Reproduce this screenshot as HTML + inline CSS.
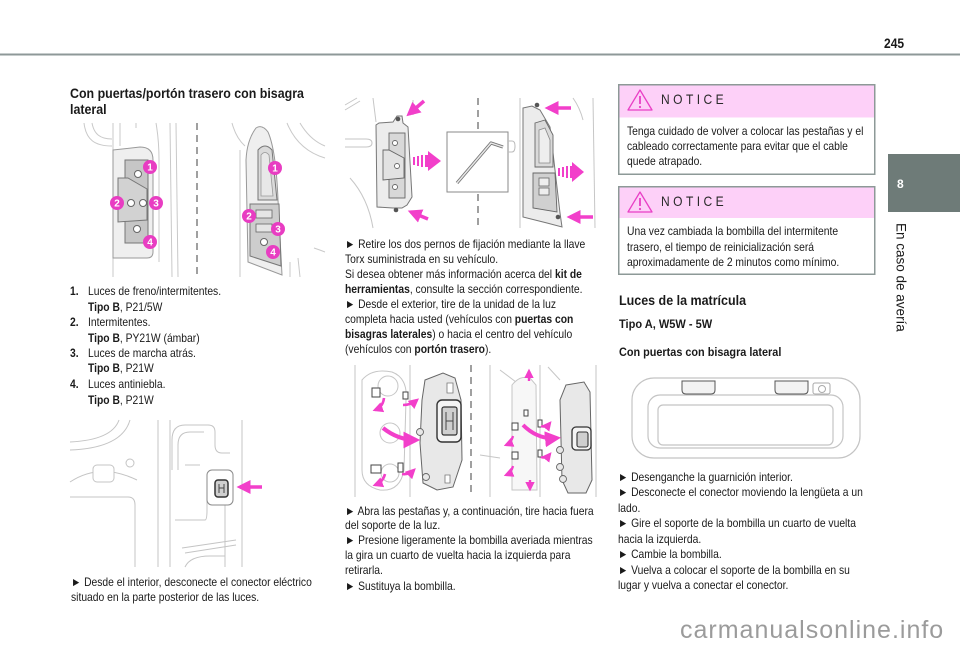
<!DOCTYPE html>
<html><head><meta charset="utf-8">
<style>
body{margin:0;background:#fff}
#p{position:relative;width:960px;height:649px;overflow:hidden;background:#fff;font-family:"Liberation Sans",Arial,sans-serif;color:#1a1a1a}
#p svg{position:absolute;left:0;top:0}
.t{position:absolute;white-space:nowrap;font-size:12px;line-height:12px;transform:scaleX(.86);transform-origin:0 0}
.h{position:absolute;white-space:nowrap;font-weight:bold;font-size:13.5px;line-height:14px;transform:scaleX(.92);transform-origin:0 0}
.s{position:absolute;white-space:nowrap;font-weight:bold;font-size:12px;line-height:12px;transform:scaleX(.91);transform-origin:0 0}
.n{position:absolute;white-space:nowrap;font-size:14px;line-height:14px;letter-spacing:4px;color:#2a2a2a;transform:scaleX(.86);transform-origin:0 0}
b{font-weight:bold}
</style></head>
<body><div id="p">
<svg width="960" height="649" viewBox="0 0 960 649">
<defs>
<marker id="a" viewBox="0 0 4 4" markerWidth="4" markerHeight="4" refX="3" refY="2" orient="auto" markerUnits="strokeWidth"><path d="M0,0L4,2L0,4z" fill="#f23fca"/></marker>
</defs>
<!-- header line -->
<rect x="0" y="53.5" width="960" height="2" fill="#8e9898"/>
<!-- sidebar -->
<rect x="888" y="154" width="72" height="58" fill="#6e7b78"/>

<!-- notice boxes -->
<rect x="618.75" y="84.75" width="256" height="89.5" fill="#fff" stroke="#8d9997" stroke-width="1.5"/>
<rect x="619.5" y="85.5" width="254.5" height="32" fill="#fdd0f8"/>
<path d="M640,90 L652,110 L628,110 Z" fill="none" stroke="#e93fc5" stroke-width="1.3" stroke-linejoin="round"/>
<line x1="640" y1="96" x2="640" y2="104" stroke="#e93fc5" stroke-width="1.8"/>
<circle cx="640" cy="107" r="1.1" fill="#e93fc5"/>

<rect x="618.75" y="186.75" width="256" height="87.5" fill="#fff" stroke="#8d9997" stroke-width="1.5"/>
<rect x="619.5" y="187.5" width="254.5" height="30.5" fill="#fdd0f8"/>
<path d="M640,192 L652,212 L628,212 Z" fill="none" stroke="#e93fc5" stroke-width="1.3" stroke-linejoin="round"/>
<line x1="640" y1="198" x2="640" y2="206" stroke="#e93fc5" stroke-width="1.8"/>
<circle cx="640" cy="209" r="1.1" fill="#e93fc5"/>

<!-- ============ Illustration 1 ============ -->
<g fill="none" stroke="#c9c9c9" stroke-width="1">
<path d="M84,123 C86,140 95,146 112,146"/>
<path d="M92,123 C94,134 100,139 112,139"/>
<path d="M113,123 L113,277"/>
<path d="M120,123 L120,146"/>
<path d="M156,123 Q159,140 159,160 L159,262"/>
<path d="M170,123 L172,277"/>
<path d="M176,123 L178,277"/>
<path d="M136,123 L136,128"/>
<path d="M232,123 Q236,138 245,146"/>
<path d="M240,150 L240,277"/>
<path d="M287,123 Q298,150 325,158"/>
<path d="M300,123 Q310,140 325,146"/>
<path d="M314,248 Q320,250 325,252"/>
<path d="M290,262 L290,277"/>
<path d="M298,258 L300,277"/>
</g>
<path d="M113,150 L140,147 Q153,147 153,160 L153,252 Q153,258 147,258 L113,258 Z" fill="#efefef" stroke="#9a9a9a" stroke-width="1"/>
<path d="M125,160 L148,160 L148,243 L125,243 Z" fill="#c6c6c6" stroke="#777" stroke-width="1"/>
<path d="M118,178 L128,178 L147,189 L147,220 L118,222 Z" fill="#d2d2d2" stroke="#777" stroke-width="1"/>
<g fill="#fff" stroke="#666" stroke-width="1">
<circle cx="138" cy="174" r="3.5"/><circle cx="131" cy="203" r="3.5"/><circle cx="143" cy="203" r="3.5"/><circle cx="137" cy="229" r="3.5"/>
</g>
<path d="M197,123 L197,277" stroke="#808080" stroke-width="1.5" stroke-dasharray="7 5"/>
<path d="M256,128 Q262,124 268,132 Q276,150 278,200 L282,275 L248,262 L246,160 Q247,140 256,128 Z" fill="#efefef" stroke="#999" stroke-width="1"/>
<path d="M258,150 Q265,142 272,150 L277,200 L258,200 Z" fill="#dadada" stroke="#777" stroke-width="1"/>
<path d="M261,155 Q265,150 269,155 L273,196 L261,196 Z" fill="#e8e8e8" stroke="#999" stroke-width="0.8"/>
<path d="M250,204 L279,204 L281,266 L250,256 Z" fill="#cdcdcd" stroke="#777" stroke-width="1"/>
<rect x="256" y="210" width="16" height="8" fill="#e5e5e5" stroke="#666" stroke-width="0.8"/>
<rect x="256" y="224" width="16" height="8" fill="#e5e5e5" stroke="#666" stroke-width="0.8"/>
<circle cx="264" cy="242" r="3.5" fill="#fff" stroke="#666" stroke-width="1"/>
<g fill="#e83dc2">
<circle cx="150" cy="167" r="7"/><circle cx="117" cy="203" r="7"/><circle cx="156" cy="203" r="7"/><circle cx="150" cy="242" r="7"/>
<circle cx="275" cy="168" r="7"/><circle cx="249" cy="216" r="7"/><circle cx="278" cy="229" r="7"/><circle cx="273" cy="252" r="7"/>
</g>
<g fill="#fff" font-family="Liberation Sans, Arial, sans-serif" font-weight="bold" font-size="10" text-anchor="middle">
<text x="150" y="170.5">1</text><text x="117" y="206.5">2</text><text x="156" y="206.5">3</text><text x="150" y="245.5">4</text>
<text x="275" y="171.5">1</text><text x="249" y="219.5">2</text><text x="278" y="232.5">3</text><text x="273" y="255.5">4</text>
</g>

<!-- ============ Illustration 2 ============ -->
<g fill="none" stroke="#c4c4c4" stroke-width="1">
<path d="M70,442 Q112,440 119,420"/>
<path d="M70,450 Q122,448 130,420"/>
<path d="M70,482 Q100,462 137,480"/>
<rect x="93" y="465" width="21" height="17" rx="4" fill="#fff"/>
<circle cx="130" cy="463" r="4"/>
<path d="M70,497 L128,497 Q135,497 135,505 L135,567"/>
<path d="M158,420 L158,567"/>
<path d="M170,420 L170,567"/>
<path d="M242,420 L242,567"/>
<path d="M172,470 L172,440 Q172,425 185,425 L208,425 Q215,425 215,432 L215,445 Q215,453 222,453 L230,453"/>
<path d="M178,470 L178,445 Q178,432 190,432 L204,432"/>
<path d="M185,465 L200,465"/>
<path d="M175,520 L205,520 Q207,520 207,510 L207,500"/>
<path d="M182,548 L236,540"/>
<path d="M185,553 L236,545"/>
<path d="M185,567 Q190,556 210,556 L225,556"/>
<path d="M225,505 L225,567"/>
</g>
<rect x="207" y="470" width="26" height="35" rx="5" fill="#fff" stroke="#8a8a8a" stroke-width="1"/>
<rect x="215" y="480" width="13" height="17" rx="3" fill="#cfcfcf" stroke="#333" stroke-width="1.5"/>
<path d="M219,484 L219,493 M219,488 L224,488 M224,484 L224,493" stroke="#444" stroke-width="1" fill="none"/>
<line x1="262" y1="487" x2="240" y2="487" stroke="#f23fca" stroke-width="3.5" marker-end="url(#a)"/>

<!-- ============ Illustration 3 ============ -->
<g fill="none" stroke="#c6c6c6" stroke-width="1">
<path d="M345,105 L357,98"/><path d="M345,110 L360,101"/>
<path d="M345,139 L366,139 Q372,139 372,143 Q372,147 366,147 L345,147"/>
<path d="M350,178 Q368,198 373,228"/>
<path d="M373,98 L376,122"/>
<path d="M520,98 L520,228"/>
<path d="M573,98 Q580,108 583,120"/>
<path d="M593,98 L595,228"/>
<path d="M413,100 L413,115"/>
</g>
<path d="M379,123 L393,122 L397,116 L402,116 L403,123 L408,127 L412,197 L407,205 L402,208 L393,208 L377,207 L376,125 Z" fill="#ececec" stroke="#777" stroke-width="1"/>
<rect x="389" y="133" width="16" height="65" fill="#d8d8d8" stroke="#666" stroke-width="0.9"/>
<path d="M383,150 L389,150 L404,158 L404,178 L383,180 Z" fill="#e2e2e2" stroke="#666" stroke-width="0.9"/>
<g fill="#fff" stroke="#666" stroke-width="0.9">
<circle cx="395" cy="143" r="2.5"/><circle cx="397" cy="166" r="2.5"/><circle cx="395" cy="187" r="2.5"/>
</g>
<circle cx="398" cy="119" r="2.3" fill="#555"/>
<circle cx="396" cy="210" r="2.3" fill="#555"/>
<path d="M478,98 L478,228" stroke="#808080" stroke-width="1.5" stroke-dasharray="7 5"/>
<rect x="447" y="132" width="61" height="60" fill="#fff" stroke="#8a8a8a" stroke-width="1"/>
<path d="M508,141 L512,141 Q515,141 515,146 Q515,152 512,152 L508,152" fill="none" stroke="#bbb" stroke-width="1"/>
<path d="M457,183 L491,143 L503,147" fill="none" stroke="#777" stroke-width="3.2" stroke-linejoin="round"/>
<path d="M457,183 L491,143 L503,147" fill="none" stroke="#e8e8e8" stroke-width="1.4" stroke-linejoin="round"/>
<path d="M523,108 L532,106 L540,110 L550,127 L560,213 L562,227 L547,223 L523,217 Z" fill="#ececec" stroke="#777" stroke-width="1"/>
<path d="M535,123 L545,120 L553,135 L553,167 L535,167 Z" fill="#dadada" stroke="#666" stroke-width="0.9"/>
<path d="M539,130 L545,128 L550,140 L550,163 L539,163 Z" fill="#eee" stroke="#888" stroke-width="0.8"/>
<path d="M533,173 L555,173 L557,212 L533,208 Z" fill="#d0d0d0" stroke="#666" stroke-width="0.9"/>
<rect x="539" y="178" width="10" height="8" fill="#eee" stroke="#666" stroke-width="0.8"/>
<rect x="539" y="188" width="10" height="7" fill="#eee" stroke="#666" stroke-width="0.8"/>
<circle cx="537" cy="105" r="2.3" fill="#555"/>
<circle cx="558" cy="217" r="2.3" fill="#555"/>
<g stroke="#f23fca" fill="none" marker-end="url(#a)">
<line x1="424" y1="101" x2="409" y2="114" stroke-width="3.5"/>
<line x1="428" y1="219" x2="411" y2="212" stroke-width="3.5"/>
<line x1="571" y1="108" x2="548" y2="108" stroke-width="3.5"/>
<line x1="593" y1="217" x2="570" y2="217" stroke-width="3.5"/>
</g>
<g fill="#f23fca">
<rect x="413" y="157" width="2" height="8"/><rect x="417" y="156" width="2" height="10"/><rect x="421" y="155" width="2" height="12"/><rect x="425" y="155" width="3" height="12"/>
<path d="M428,151 L441,161 L428,171 Z"/>
<rect x="558" y="168" width="2" height="8"/><rect x="562" y="167" width="2" height="10"/><rect x="566" y="166" width="2" height="12"/><rect x="570" y="166" width="2" height="12"/>
<path d="M572,162 L584,172 L572,182 Z"/>
</g>

<!-- ============ Illustration 4 ============ -->
<g fill="none" stroke="#c6c6c6" stroke-width="1">
<path d="M355,365 L355,497"/>
<path d="M410,365 L410,497"/>
<path d="M362,380 Q372,368 392,372 Q408,378 406,400 L404,470 Q400,492 380,490 Q362,486 362,470 Z"/>
<circle cx="388" cy="386" r="10"/>
<circle cx="390" cy="433" r="10"/>
<circle cx="390" cy="473" r="9"/>
<path d="M490,365 L490,497"/>
<path d="M500,370 L516,382"/>
<path d="M540,365 L540,497"/>
<path d="M548,367 L560,380"/>
<path d="M596,365 L596,497"/>
<path d="M512,385 Q520,375 530,378 L536,385 L537,490 L512,490 Z" fill="#f7f7f7"/>
<path d="M480,455 L500,458"/>
</g>
<path d="M425,380 L443,373 L455,378 L461,400 L462,460 L453,487 L437,490 L423,483 L420,443 L422,400 Z" fill="#e8e8e8" stroke="#666" stroke-width="1"/>
<circle cx="420" cy="432" r="3.5" fill="#e8e8e8" stroke="#666" stroke-width="0.9"/>
<circle cx="426" cy="477" r="3.5" fill="#e8e8e8" stroke="#666" stroke-width="0.9"/>
<path d="M447,383 L453,383 L453,393 L447,393 Z" fill="#fff" stroke="#777" stroke-width="0.8"/>
<path d="M445,475 L450,475 L450,483 L445,483 Z" fill="#fff" stroke="#777" stroke-width="0.8"/>
<rect x="437" y="400" width="24" height="42" rx="5" fill="#f4f4f4" stroke="#333" stroke-width="1.4"/>
<rect x="442" y="407" width="15" height="28" rx="2" fill="#cfcfcf" stroke="#333" stroke-width="1.2"/>
<path d="M446,412 L446,430 M446,421 L453,421 M453,412 L453,430" stroke="#444" stroke-width="1" fill="none"/>
<g fill="#fff" stroke="#444" stroke-width="1">
<rect x="372" y="388" width="8" height="9"/><rect x="403" y="392" width="5" height="7"/>
<rect x="371" y="465" width="10" height="8"/><rect x="398" y="463" width="5" height="9"/>
<rect x="512" y="423" width="6" height="7"/><rect x="512" y="452" width="6" height="7"/>
<rect x="524" y="410" width="4" height="6"/><rect x="538" y="420" width="4" height="7"/><rect x="538" y="450" width="4" height="7"/>
</g>
<path d="M566,385 L584,382 L590,392 L592,480 L586,493 L568,493 L562,480 L560,400 Z" fill="#e8e8e8" stroke="#666" stroke-width="1"/>
<circle cx="560" cy="450" r="3.5" fill="#e8e8e8" stroke="#666" stroke-width="0.9"/>
<circle cx="560" cy="467" r="3.5" fill="#e8e8e8" stroke="#666" stroke-width="0.9"/>
<circle cx="563" cy="479" r="3.5" fill="#e8e8e8" stroke="#666" stroke-width="0.9"/>
<rect x="572" y="427" width="19" height="23" rx="4" fill="#f4f4f4" stroke="#333" stroke-width="1.3"/>
<rect x="577" y="432" width="11" height="15" rx="2" fill="#cfcfcf" stroke="#333" stroke-width="1.1"/>
<path d="M471,365 L471,497" stroke="#808080" stroke-width="1.5" stroke-dasharray="7 5"/>
<g stroke="#f23fca" fill="none" marker-end="url(#a)">
<path d="M384,398 Q383,407 375,410" stroke-width="2.6"/>
<path d="M403,405 Q411,405 417,400" stroke-width="2.6"/>
<path d="M383,428 Q398,440 416,440" stroke-width="4.2"/>
<path d="M402,474 Q409,475 414,470" stroke-width="2.6"/>
<path d="M385,474 Q383,482 375,485" stroke-width="2.6"/>
<path d="M529,381 L529,371" stroke-width="2.4"/>
<path d="M530,480 L530,489" stroke-width="2.4"/>
<path d="M523,425 Q538,440 557,438" stroke-width="4"/>
<path d="M541,426 Q546,428 550,423" stroke-width="2.4"/>
<path d="M513,436 Q511,443 506,445" stroke-width="2.4"/>
<path d="M541,457 Q546,459 550,454" stroke-width="2.4"/>
<path d="M513,466 Q511,473 506,475" stroke-width="2.4"/>
</g>

<!-- ============ Illustration 5 ============ -->
<g fill="none" stroke="#c4c4c4" stroke-width="1.2">
<rect x="632" y="378" width="228" height="80" rx="22"/>
<rect x="648" y="395" width="195" height="53" rx="12"/>
<rect x="658" y="405" width="175" height="40" rx="5"/>
</g>
<path d="M682,381 L715,381 L715,390 Q715,394 711,394 L686,394 Q682,394 682,390 Z" fill="#f2f2f2" stroke="#555" stroke-width="1"/>
<path d="M775,381 L808,381 L808,390 Q808,394 804,394 L779,394 Q775,394 775,390 Z" fill="#f2f2f2" stroke="#555" stroke-width="1"/>
<rect x="813" y="383" width="17" height="11" rx="2" fill="#fff" stroke="#aaa" stroke-width="1"/>
<circle cx="822" cy="389" r="3.5" fill="none" stroke="#aaa" stroke-width="1"/>
</svg>

<!-- header -->
<div style="position:absolute;left:884px;top:36px;font-weight:bold;font-size:14px;line-height:14px;transform:scaleX(.86);transform-origin:0 0;white-space:nowrap">245</div>
<!-- sidebar -->
<div style="position:absolute;left:897px;top:178px;font-weight:bold;font-size:12px;line-height:12px;color:#fff">8</div>
<div style="position:absolute;left:893.5px;top:223px;writing-mode:vertical-rl;font-size:13.5px;line-height:14px;white-space:nowrap;color:#1a1a1a">En caso de avería</div>

<!-- left column -->
<div class="h" style="left:70px;top:86.5px">Con puertas/portón trasero con bisagra</div>
<div class="h" style="left:70px;top:103px">lateral</div>

<div class="t" style="left:70px;top:284.5px"><b>1.</b></div>
<div class="t" style="left:88px;top:284.5px">Luces de freno/intermitentes.</div>
<div class="t" style="left:88px;top:300.5px"><b>Tipo B</b>, P21/5W</div>
<div class="t" style="left:70px;top:315.5px"><b>2.</b></div>
<div class="t" style="left:88px;top:315.5px">Intermitentes.</div>
<div class="t" style="left:88px;top:331.5px"><b>Tipo B</b>, PY21W (ámbar)</div>
<div class="t" style="left:70px;top:346.5px"><b>3.</b></div>
<div class="t" style="left:88px;top:346.5px">Luces de marcha atrás.</div>
<div class="t" style="left:88px;top:361.5px"><b>Tipo B</b>, P21W</div>
<div class="t" style="left:70px;top:377.5px"><b>4.</b></div>
<div class="t" style="left:88px;top:377.5px">Luces antiniebla.</div>
<div class="t" style="left:88px;top:393.5px"><b>Tipo B</b>, P21W</div>

<div class="t" style="left:71px;top:575.5px">► Desde el interior, desconecte el conector eléctrico</div>
<div class="t" style="left:71px;top:590.5px">situado en la parte posterior de las luces.</div>

<!-- middle column -->
<div class="t" style="left:345px;top:237.5px">► Retire los dos pernos de fijación mediante la llave</div>
<div class="t" style="left:345px;top:252.5px">Torx suministrada en su vehículo.</div>
<div class="t" style="left:345px;top:267.5px">Si desea obtener más información acerca del <b>kit de</b></div>
<div class="t" style="left:345px;top:282.5px"><b>herramientas</b>, consulte la sección correspondiente.</div>
<div class="t" style="left:345px;top:297.5px">► Desde el exterior, tire de la unidad de la luz</div>
<div class="t" style="left:345px;top:312.5px">completa hacia usted (vehículos con <b>puertas con</b></div>
<div class="t" style="left:345px;top:327.5px"><b>bisagras laterales</b>) o hacia el centro del vehículo</div>
<div class="t" style="left:345px;top:342.5px">(vehículos con <b>portón trasero</b>).</div>

<div class="t" style="left:345px;top:504.5px">► Abra las pestañas y, a continuación, tire hacia fuera</div>
<div class="t" style="left:345px;top:518.5px">del soporte de la luz.</div>
<div class="t" style="left:345px;top:533.5px">► Presione ligeramente la bombilla averiada mientras</div>
<div class="t" style="left:345px;top:548.5px">la gira un cuarto de vuelta hacia la izquierda para</div>
<div class="t" style="left:345px;top:564px">retirarla.</div>
<div class="t" style="left:345px;top:579.5px">► Sustituya la bombilla.</div>

<!-- right column -->
<div class="n" style="left:661px;top:92px">NOTICE</div>
<div class="t" style="left:627px;top:124.5px">Tenga cuidado de volver a colocar las pestañas y el</div>
<div class="t" style="left:627px;top:139.5px">cableado correctamente para evitar que el cable</div>
<div class="t" style="left:627px;top:154.5px">quede atrapado.</div>

<div class="n" style="left:661px;top:194px">NOTICE</div>
<div class="t" style="left:627px;top:225px">Una vez cambiada la bombilla del intermitente</div>
<div class="t" style="left:627px;top:240.5px">trasero, el tiempo de reinicialización será</div>
<div class="t" style="left:627px;top:256px">aproximadamente de 2 minutos como mínimo.</div>

<div class="h" style="left:619px;top:294px;transform:scaleX(.925)">Luces de la matrícula</div>
<div class="s" style="left:619px;top:317.5px;transform:scaleX(.92)">Tipo A, W5W - 5W</div>
<div class="s" style="left:619px;top:345.5px;transform:scaleX(.905)">Con puertas con bisagra lateral</div>

<div class="t" style="left:618px;top:470.5px">► Desenganche la guarnición interior.</div>
<div class="t" style="left:618px;top:486px">► Desconecte el conector moviendo la lengüeta a un</div>
<div class="t" style="left:618px;top:501.5px">lado.</div>
<div class="t" style="left:618px;top:517px">► Gire el soporte de la bombilla un cuarto de vuelta</div>
<div class="t" style="left:618px;top:532.5px">hacia la izquierda.</div>
<div class="t" style="left:618px;top:548px">► Cambie la bombilla.</div>
<div class="t" style="left:618px;top:563.5px">► Vuelva a colocar el soporte de la bombilla en su</div>
<div class="t" style="left:618px;top:579px">lugar y vuelva a conectar el conector.</div>

<!-- watermark -->
<div style="position:absolute;left:680px;top:618px;font-size:25px;line-height:25px;letter-spacing:1px;color:#9b9b9b;white-space:nowrap">carmanualsonline.info</div>
</div></body></html>
